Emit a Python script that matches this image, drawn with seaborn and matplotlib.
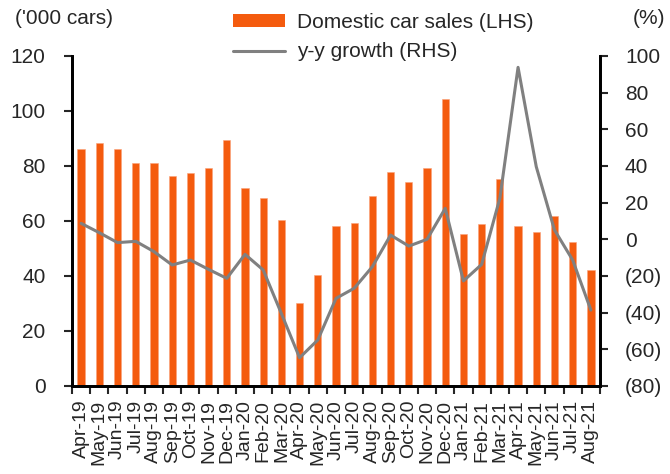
import numpy as np
import pandas as pd
import matplotlib
matplotlib.use("Agg")
import matplotlib.pyplot as plt
from matplotlib.patches import Patch
from matplotlib.lines import Line2D
from matplotlib.ticker import FuncFormatter, FixedLocator
import seaborn as sns

# data
months = ["Apr-19", "May-19", "Jun-19", "Jul-19", "Aug-19", "Sep-19", "Oct-19",
          "Nov-19", "Dec-19", "Jan-20", "Feb-20", "Mar-20", "Apr-20", "May-20",
          "Jun-20", "Jul-20", "Aug-20", "Sep-20", "Oct-20", "Nov-20", "Dec-20",
          "Jan-21", "Feb-21", "Mar-21", "Apr-21", "May-21", "Jun-21", "Jul-21",
          "Aug-21"]
sales = [86.2, 88.2, 86.2, 81.1, 81.0, 76.4, 77.3, 79.4, 89.3, 71.9, 68.4, 60.2,
         30.1, 40.4, 58.2, 59.4, 69.1, 77.9, 74.2, 79.3, 104.2, 55.3, 59.0, 75.1,
         58.2, 56.0, 61.8, 52.5, 42.2]
growth = [8.7, 3.6, -1.8, -1.1, -6.7, -14.0, -11.3, -16.4, -21.3, -8.2, -16.7,
          -40.5, -64.6, -54.9, -32.2, -26.7, -14.9, 2.3, -3.7, 0.0, 16.9, -22.7,
          -13.7, 22.4, 93.8, 39.6, 5.1, -11.3, -38.6]

orange = "#F45B0E"
grey = "#808080"
fs = 15

df = pd.DataFrame({"month": months, "sales": sales, "growth": growth})
df["pos"] = range(len(df))

sns.set_style("white")
plt.rcParams["font.family"] = ["Liberation Sans", "DejaVu Sans"]
plt.rcParams["font.size"] = fs

fig = plt.figure(figsize=(6.7, 4.74), dpi=100)
ax = fig.add_axes([0.1075, 0.1857, 0.788, 0.6962])

sns.barplot(data=df, x="month", y="sales", color=orange, width=0.4,
            saturation=1, ax=ax, edgecolor="#F9A27A", linewidth=0.4)
ax.set_xlim(-0.5, len(months) - 0.5)
ax.set_ylim(0, 120)
ax.set_yticks(range(0, 121, 20))
ax.set_xlabel("")
ax.set_ylabel("")

# ticks at category boundaries, labels under bars
ax.set_xticks(df["pos"])
ax.set_xticklabels(months, rotation=90)
ax.tick_params(axis="x", which="major", length=0, pad=10, labelsize=14)
ax.xaxis.set_minor_locator(FixedLocator(np.arange(-0.5, len(months), 1)))
ax.tick_params(axis="x", which="minor", length=6, width=1.5, direction="out",
               bottom=True)
ax.tick_params(axis="y", length=6, width=1.5, direction="out", left=True,
               labelsize=fs, pad=13)

ax2 = ax.twinx()
sns.lineplot(data=df, x="pos", y="growth", color=grey, linewidth=2.2, ax=ax2)
ax2.set_xlim(-0.5, len(months) - 0.5)
ax2.set_ylim(-80, 100)
ax2.set_yticks(range(-80, 101, 20))
ax2.yaxis.set_major_formatter(FuncFormatter(
    lambda v, p: f"({abs(int(v))})" if v < 0 else f"{int(v)}"))
ax2.set_ylabel("")
ax2.set_xlabel("")
ax2.tick_params(axis="y", length=6, width=1.5, direction="out", right=True,
                labelsize=fs, pad=12)

for a in (ax, ax2):
    for side in ("left", "right", "bottom"):
        a.spines[side].set_linewidth(2)
        a.spines[side].set_color("black")
    a.spines["top"].set_visible(False)
    a.grid(False)

fig.text(0.022, 0.96, "('000 cars)", fontsize=fs, va="center", ha="left")
fig.text(0.993, 0.96, "(%)", fontsize=fs, va="center", ha="right")

handles = [Patch(facecolor=orange, edgecolor="none"),
           Line2D([0], [0], color=grey, linewidth=2.2)]
fig.legend(handles, ["Domestic car sales (LHS)", "y-y growth (RHS)"],
           loc="upper left", bbox_to_anchor=(0.335, 0.99), frameon=False,
           fontsize=fs, handlelength=2.5, handleheight=0.6, handletextpad=0.6,
           labelspacing=0.5, borderaxespad=0)

fig.savefig("out.png", dpi=100)
